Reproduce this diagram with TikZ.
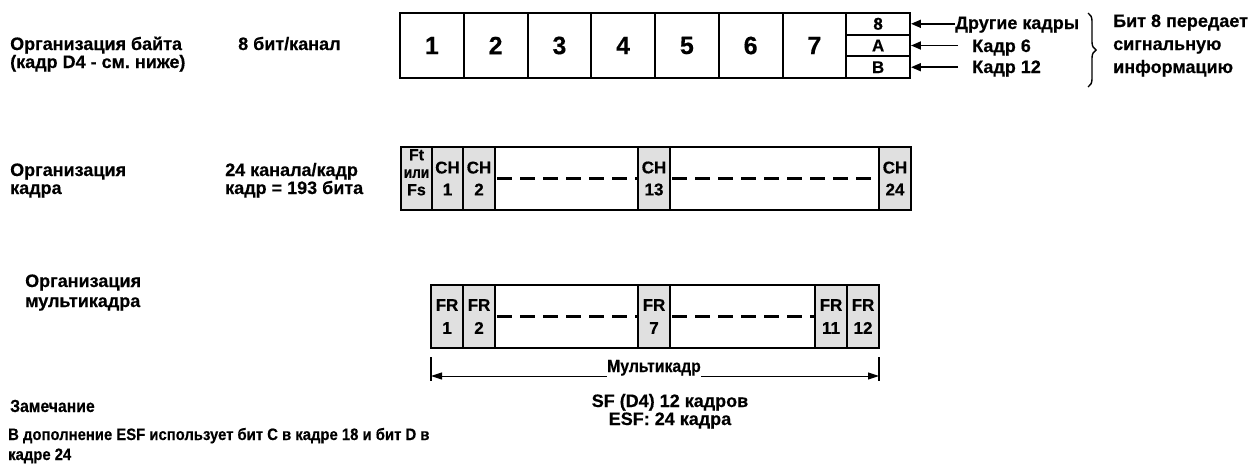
\documentclass[tikz,border=0pt]{standalone}
\usepackage{fontspec}
\setmainfont{Liberation Sans}[BoldFeatures={FakeBold=0.4}]
\newfontfamily\notefont{Liberation Sans}[FakeStretch=0.9, BoldFeatures={FakeBold=0.4}]
\usetikzlibrary{arrows.meta,decorations.pathreplacing}
\definecolor{cellgray}{RGB}{224,224,224}
\tikzset{
  lbl/.style={font=\bfseries\fontsize{18}{18}\selectfont, inner sep=0pt, anchor=base west, align=left},
  clbl/.style={font=\bfseries\fontsize{18}{18}\selectfont, inner sep=0pt, anchor=base, align=center},
  bytecell/.style={draw, line width=2pt, minimum width=63.75pt, minimum height=65pt, inner sep=0pt,
    font=\bfseries\fontsize{25}{25}\selectfont},
  bitcell/.style={draw, line width=2pt, minimum width=63.75pt, minimum height=21.67pt, inner sep=0pt,
    font=\bfseries\fontsize{17}{17}\selectfont},
  slot/.style={draw, line width=2pt, fill=cellgray, minimum height=63pt, inner sep=0pt, align=center,
    font=\bfseries\fontsize{17}{22}\selectfont},
  frslot/.style={slot, minimum width=32pt, font=\bfseries\fontsize{17}{23}\selectfont},
  gap/.style={draw, line width=2pt, fill=white, minimum height=63pt, inner sep=0pt},
  sigarrow/.style={line width=1.8pt, -{Triangle[length=10pt,width=8pt]}},
  dimline/.style={line width=1pt, {Triangle[length=11pt,width=7pt]}-{Triangle[length=11pt,width=7pt]}},
  tick/.style={line width=1.5pt},
  dashfill/.style={line width=2.2pt, dash pattern=on 15pt off 8pt},
}
\begin{document}
\frenchspacing
\begin{tikzpicture}[x=1pt,y=-1pt]
\useasboundingbox (0,0) rectangle (1252,469);

% ---- byte organisation ----
\node[lbl] (byteorg) at (10,68) {Организация байта\\(кадр D4 - см. ниже)};
\node[lbl] (bitsch) at (238,50) {8 бит/канал};
\foreach \i in {1,...,7}
  \node[bytecell] (b\i) at ({400+63.75*(\i-0.5)},45.5) {\i};
\node[bitcell] (s8) at (878.1,23.8) {8};
\node[bitcell] (sA) at (878.1,45.5) {A};
\node[bitcell] (sB) at (878.1,67.2) {B};
\node[lbl] (other) at (955,29) {Другие кадры};
\node[lbl] (k6) at (972,52) {Кадр 6};
\node[lbl] (k12) at (972,73) {Кадр 12};
\draw[sigarrow] (other.west |- s8) -- (s8.east);
\draw[sigarrow, shorten <=14pt] (k6.west |- sA) -- (sA.east);
\draw[sigarrow, shorten <=14pt] (k12.west |- sB) -- (sB.east);
\coordinate (brtop) at (1088,13);
\coordinate (brbot) at (1088,87);
\draw[line width=1.4pt, decorate, decoration={brace, amplitude=8pt}] (brtop) -- (brbot);
\node[lbl, font=\bfseries\fontsize{18}{23}\selectfont] (sig) at (1113,73) {Бит 8 передает\\сигнальную\\информацию};

% ---- frame organisation ----
\node[lbl] (frameorg) at (10,194) {Организация\\кадра};
\node[lbl] (framefmt) at (225,194) {24 канала/кадр\\кадр = 193 бита};
\node[slot, minimum width=31pt, font=\bfseries\fontsize{16}{17.5}\selectfont] (fb) at (416.5,178.5)
  {Ft\\\scalebox{0.85}[1]{или}\\Fs\rule[-12.5pt]{0pt}{0pt}};
\node[slot, minimum width=31pt] (ch1) at (447.5,178.5) {CH\\1};
\node[slot, minimum width=32pt] (ch2) at (479,178.5) {CH\\2};
\node[gap, minimum width=143pt] (g1) at (566.5,178.5) {};
\node[slot, minimum width=32pt] (ch13) at (654,178.5) {CH\\13};
\node[gap, minimum width=209pt] (g2) at (774.5,178.5) {};
\node[slot, minimum width=32pt] (ch24) at (895,178.5) {CH\\24};
\draw[dashfill] ([xshift=3pt]g1.west) -- (g1.east);
\draw[dashfill] ([xshift=3pt]g2.west) -- (g2.east);

% ---- multiframe organisation ----
\node[lbl, font=\bfseries\fontsize{18}{20}\selectfont] (mforg) at (25,307) {Организация\\мультикадра};
\node[frslot] (fr1) at (447,316.5) {FR\\1};
\node[frslot] (fr2) at (479,316.5) {FR\\2};
\node[gap, minimum width=143pt] (g3) at (566.5,316.5) {};
\node[frslot] (fr7) at (654,316.5) {FR\\7};
\node[gap, minimum width=145pt] (g4) at (742.5,316.5) {};
\node[frslot] (fr11) at (831,316.5) {FR\\11};
\node[frslot] (fr12) at (863,316.5) {FR\\12};
\draw[dashfill] ([xshift=3pt]g3.west) -- (g3.east);
\draw[dashfill] ([xshift=3pt]g4.west) -- (g4.east);

% span of the multiframe
\coordinate (dlt) at (431,357);
\coordinate (dlb) at (431,381);
\coordinate (drt) at (879,357);
\coordinate (drb) at (879,381);
\coordinate (dl) at (431,376);
\coordinate (dr) at (879,376);
\draw[tick] (dlt) -- (dlb);
\draw[tick] (drt) -- (drb);
\draw[dimline] (dl) -- (dr);
\node[clbl, font=\notefont\bfseries\fontsize{17.5}{17.5}\selectfont, fill=white, inner xsep=0pt, inner ysep=1pt] (mf) at (654,372) {Мультикадр};
\node[clbl] (sfnote) at (670,425) {SF (D4) 12 кадров\\ESF: 24 кадра};

% ---- remark ----
\node[lbl, font=\notefont\bfseries\fontsize{17.5}{17.5}\selectfont] (remhead) at (10,412) {Замечание};
\node[lbl, font=\notefont\bfseries\fontsize{16.5}{20}\selectfont] (remtext) at (8,460)
  {В дополнение ESF использует бит С в кадре 18 и бит D в\\кадре 24};
\end{tikzpicture}
\end{document}
